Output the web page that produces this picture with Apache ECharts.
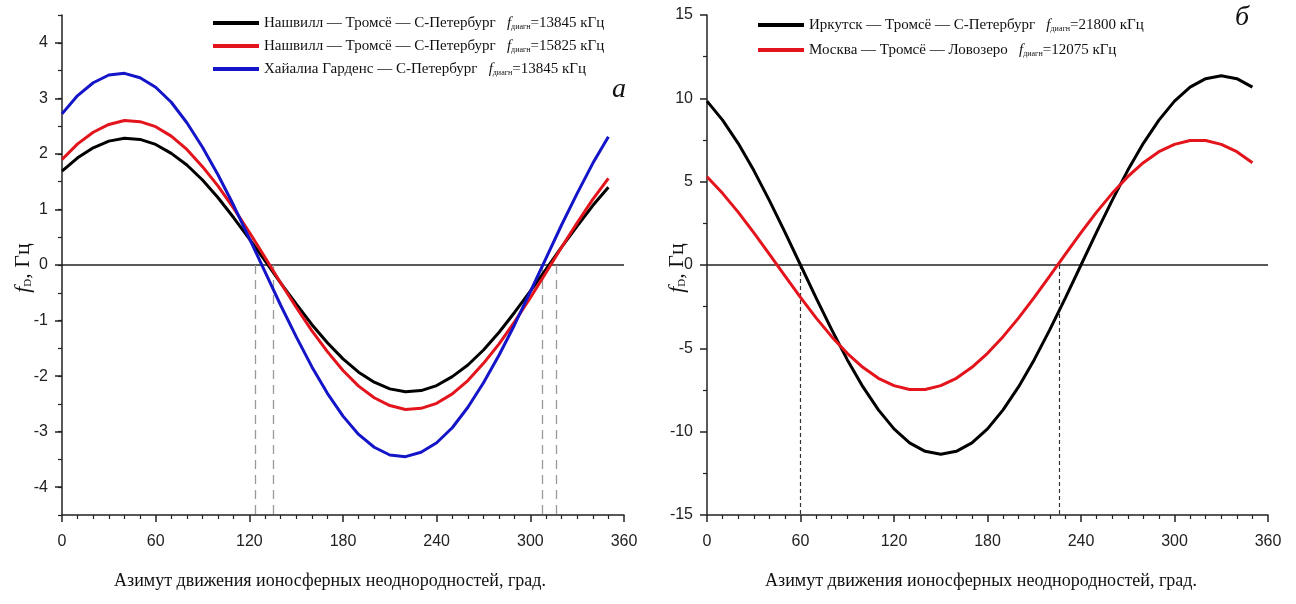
<!DOCTYPE html>
<html><head><meta charset="utf-8">
<script src="https://cdn.jsdelivr.net/npm/echarts@6/dist/echarts.min.js"></script>
<style>html,body{margin:0;padding:0;background:#fff}#c{width:1296px;height:604px}</style>
</head><body><div id="c"></div>
<script>
// ---- data ----
const azimuth = [0,10,20,30,40,50,60,70,80,90,100,110,120,130,140,150,160,170,180,190,200,210,220,230,240,250,260,270,280,290,300,310,320,330,340,350];

const leftNames = [
  'Нашвилл — Тромсё — С-Петербург|13845',
  'Нашвилл — Тромсё — С-Петербург|15825',
  'Хайалиа Гарденс — С-Петербург|13845'
];
const leftBlack = [1.69,1.93,2.11,2.23,2.28,2.26,2.17,2.01,1.80,1.53,1.21,0.85,0.47,0.08,-0.32,-0.70,-1.07,-1.40,-1.69,-1.93,-2.11,-2.23,-2.28,-2.26,-2.17,-2.01,-1.80,-1.53,-1.21,-0.85,-0.47,-0.08,0.32,0.70,1.07,1.40];
const leftRed = [1.90,2.18,2.39,2.53,2.60,2.58,2.49,2.32,2.08,1.77,1.42,1.02,0.59,0.14,-0.32,-0.76,-1.18,-1.56,-1.90,-2.18,-2.39,-2.53,-2.60,-2.58,-2.49,-2.32,-2.08,-1.77,-1.42,-1.02,-0.59,-0.14,0.32,0.76,1.18,1.56];
const leftBlue = [2.72,3.05,3.28,3.42,3.45,3.37,3.20,2.93,2.56,2.12,1.62,1.07,0.48,-0.12,-0.72,-1.29,-1.83,-2.31,-2.72,-3.05,-3.28,-3.42,-3.45,-3.37,-3.20,-2.93,-2.56,-2.12,-1.62,-1.07,-0.48,0.12,0.72,1.29,1.83,2.31];
const leftDashed = [123.6, 135.5, 307.5, 316.5];

const rightNames = [
  'Иркутск — Тромсё — С-Петербург|21800',
  'Москва — Тромсё — Ловозеро|12075'
];
const rightBlack = [9.83,8.69,7.30,5.68,3.88,1.97,0,-1.97,-3.88,-5.68,-7.30,-8.69,-9.83,-10.67,-11.18,-11.35,-11.18,-10.67,-9.83,-8.69,-7.30,-5.68,-3.88,-1.97,0,1.97,3.88,5.68,7.30,8.69,9.83,10.67,11.18,11.35,11.18,10.67];
const rightRed = [5.30,4.30,3.17,1.94,0.65,-0.65,-1.94,-3.17,-4.30,-5.30,-6.14,-6.80,-7.24,-7.47,-7.47,-7.24,-6.80,-6.14,-5.30,-4.30,-3.17,-1.94,-0.65,0.65,1.94,3.17,4.30,5.30,6.14,6.80,7.24,7.47,7.47,7.24,6.80,6.14];
const rightDashed = [59.7, 226];

const leftYLabels = [-4,-3,-2,-1,0,1,2,3,4];
const xTitle = 'Азимут движения ионосферных неоднородностей, град.';

// ---- chart ----
const pair = arr => azimuth.map((x, i) => [x, arr[i]]);
const serif = '"Liberation Serif","Times New Roman",serif';
const sans = '"Liberation Sans",Arial,sans-serif';

const legendRich = {
  n: {fontFamily: serif, fontSize: 15, color: '#111'},
  i: {fontFamily: serif, fontSize: 15, fontStyle: 'italic', color: '#111'},
  s: {fontFamily: serif, fontSize: 8, color: '#111', padding: [7, 0, 0, 0]}
};
const legendFmt = name => {
  const p = name.split('|');
  return '{n|' + p[0] + '   }{i|f}{s|диагн}{n|=' + p[1] + ' кГц}';
};

function xAxis(gi) {
  return {
    type: 'value', gridIndex: gi, min: 0, max: 360, interval: 60, position: 'bottom',
    axisLine: {show: true, onZero: false, lineStyle: {color: '#222', width: 1.5}},
    axisTick: {show: true, length: 7, lineStyle: {color: '#222', width: 1.5}},
    minorTick: {show: true, splitNumber: 6, length: 4, lineStyle: {color: '#222', width: 1.2}},
    axisLabel: {fontFamily: sans, fontSize: 16, color: '#222', margin: 19},
    splitLine: {show: false}
  };
}

const lineSeries = (name, data, color, xi, yi) => ({
  type: 'line', name, data: pair(data), xAxisIndex: xi, yAxisIndex: yi,
  showSymbol: false, symbol: 'none', smooth: false,
  lineStyle: {color, width: 3}, itemStyle: {color}, z: 5
});

const dashPairs = (vals, bottom) => vals.map(v => [{coord: [v, 0]}, {coord: [v, bottom]}]);

const option = {
  animation: false,
  backgroundColor: '#fff',
  grid: [
    {left: 62, right: 672, top: 15, bottom: 89},
    {left: 707, right: 28, top: 15, bottom: 89}
  ],
  xAxis: [xAxis(0), xAxis(1)],
  yAxis: [
    {
      type: 'value', gridIndex: 0, min: -4.5, max: 4.5, interval: 0.5, position: 'left',
      axisLine: {show: true, onZero: false, lineStyle: {color: '#222', width: 1.5}},
      axisTick: {show: true, customValues: leftYLabels, length: 7, lineStyle: {color: '#222', width: 1.5}},
      axisLabel: {customValues: leftYLabels, fontFamily: sans, fontSize: 16, color: '#222', margin: 14},
      splitLine: {show: false}
    },
    {
      type: 'value', gridIndex: 0, min: -4.5, max: 4.5, interval: 0.5, position: 'left', offset: 0,
      axisLine: {show: false, onZero: false},
      axisTick: {show: true, length: 4, lineStyle: {color: '#222', width: 1.2}},
      axisLabel: {show: false},
      splitLine: {show: false}
    },
    {
      type: 'value', gridIndex: 1, min: -15, max: 15, interval: 5, position: 'left',
      axisLine: {show: true, onZero: false, lineStyle: {color: '#222', width: 1.5}},
      axisTick: {show: true, length: 7, lineStyle: {color: '#222', width: 1.5}},
      minorTick: {show: true, splitNumber: 2, length: 4, lineStyle: {color: '#222', width: 1.2}},
      axisLabel: {fontFamily: sans, fontSize: 16, color: '#222', margin: 14},
      splitLine: {show: false}
    }
  ],
  legend: [
    {
      data: leftNames, orient: 'vertical', left: 208, top: 9, itemGap: 5,
      icon: 'rect', itemWidth: 46, itemHeight: 4,
      formatter: legendFmt, textStyle: {rich: legendRich, lineHeight: 18}
    },
    {
      data: rightNames, orient: 'vertical', left: 753, top: 11, itemGap: 7,
      icon: 'rect', itemWidth: 46, itemHeight: 4,
      formatter: legendFmt, textStyle: {rich: legendRich, lineHeight: 18}
    }
  ],
  series: [
    Object.assign(lineSeries(leftNames[0], leftBlack, '#000000', 0, 0), {
      markLine: {
        silent: true, symbol: 'none', label: {show: false}, animation: false,
        data: [{yAxis: 0, lineStyle: {color: '#222', width: 1.5, type: 'solid'}}]
          .concat(dashPairs(leftDashed, -4.5).map(d => { d[0].lineStyle = {color: '#999', width: 1.3, type: [9, 6]}; return d; }))
      }
    }),
    lineSeries(leftNames[1], leftRed, '#e3141b', 0, 0),
    lineSeries(leftNames[2], leftBlue, '#1414c8', 0, 0),
    Object.assign(lineSeries(rightNames[0], rightBlack, '#000000', 1, 2), {
      markLine: {
        silent: true, symbol: 'none', label: {show: false}, animation: false,
        data: [{yAxis: 0, lineStyle: {color: '#222', width: 1.5, type: 'solid'}}]
          .concat(dashPairs(rightDashed, -15).map(d => { d[0].lineStyle = {color: '#333', width: 1.2, type: [4, 3]}; return d; }))
      }
    }),
    lineSeries(rightNames[1], rightRed, '#e3141b', 1, 2)
  ],
  graphic: [
    {type: 'text', x: 23, y: 268, rotation: Math.PI / 2,
      style: {text: '{i|f}{s|D}{n|, Гц}', align: 'center', verticalAlign: 'middle',
        rich: {i: {fontFamily: serif, fontSize: 22, fontStyle: 'italic', fill: '#111'},
               s: {fontFamily: serif, fontSize: 11, fill: '#111', padding: [10, 0, 0, 0]},
               n: {fontFamily: serif, fontSize: 22, fill: '#111'}}}},
    {type: 'text', x: 677, y: 268, rotation: Math.PI / 2,
      style: {text: '{i|f}{s|D}{n|, Гц}', align: 'center', verticalAlign: 'middle',
        rich: {i: {fontFamily: serif, fontSize: 22, fontStyle: 'italic', fill: '#111'},
               s: {fontFamily: serif, fontSize: 11, fill: '#111', padding: [10, 0, 0, 0]},
               n: {fontFamily: serif, fontSize: 22, fill: '#111'}}}},
    {type: 'text', x: 330, y: 581, style: {text: xTitle, align: 'center', verticalAlign: 'middle', font: '18px ' + serif, fill: '#111'}},
    {type: 'text', x: 981, y: 581, style: {text: xTitle, align: 'center', verticalAlign: 'middle', font: '18px ' + serif, fill: '#111'}},
    {type: 'text', x: 619, y: 90, style: {text: 'а', align: 'center', verticalAlign: 'middle', font: 'italic 28px ' + serif, fill: '#111'}},
    {type: 'text', x: 1242, y: 18, style: {text: 'б', align: 'center', verticalAlign: 'middle', font: 'italic 28px ' + serif, fill: '#111'}}
  ]
};
echarts.init(document.getElementById('c'), null, {renderer: 'canvas'}).setOption(option);
</script></body></html>
